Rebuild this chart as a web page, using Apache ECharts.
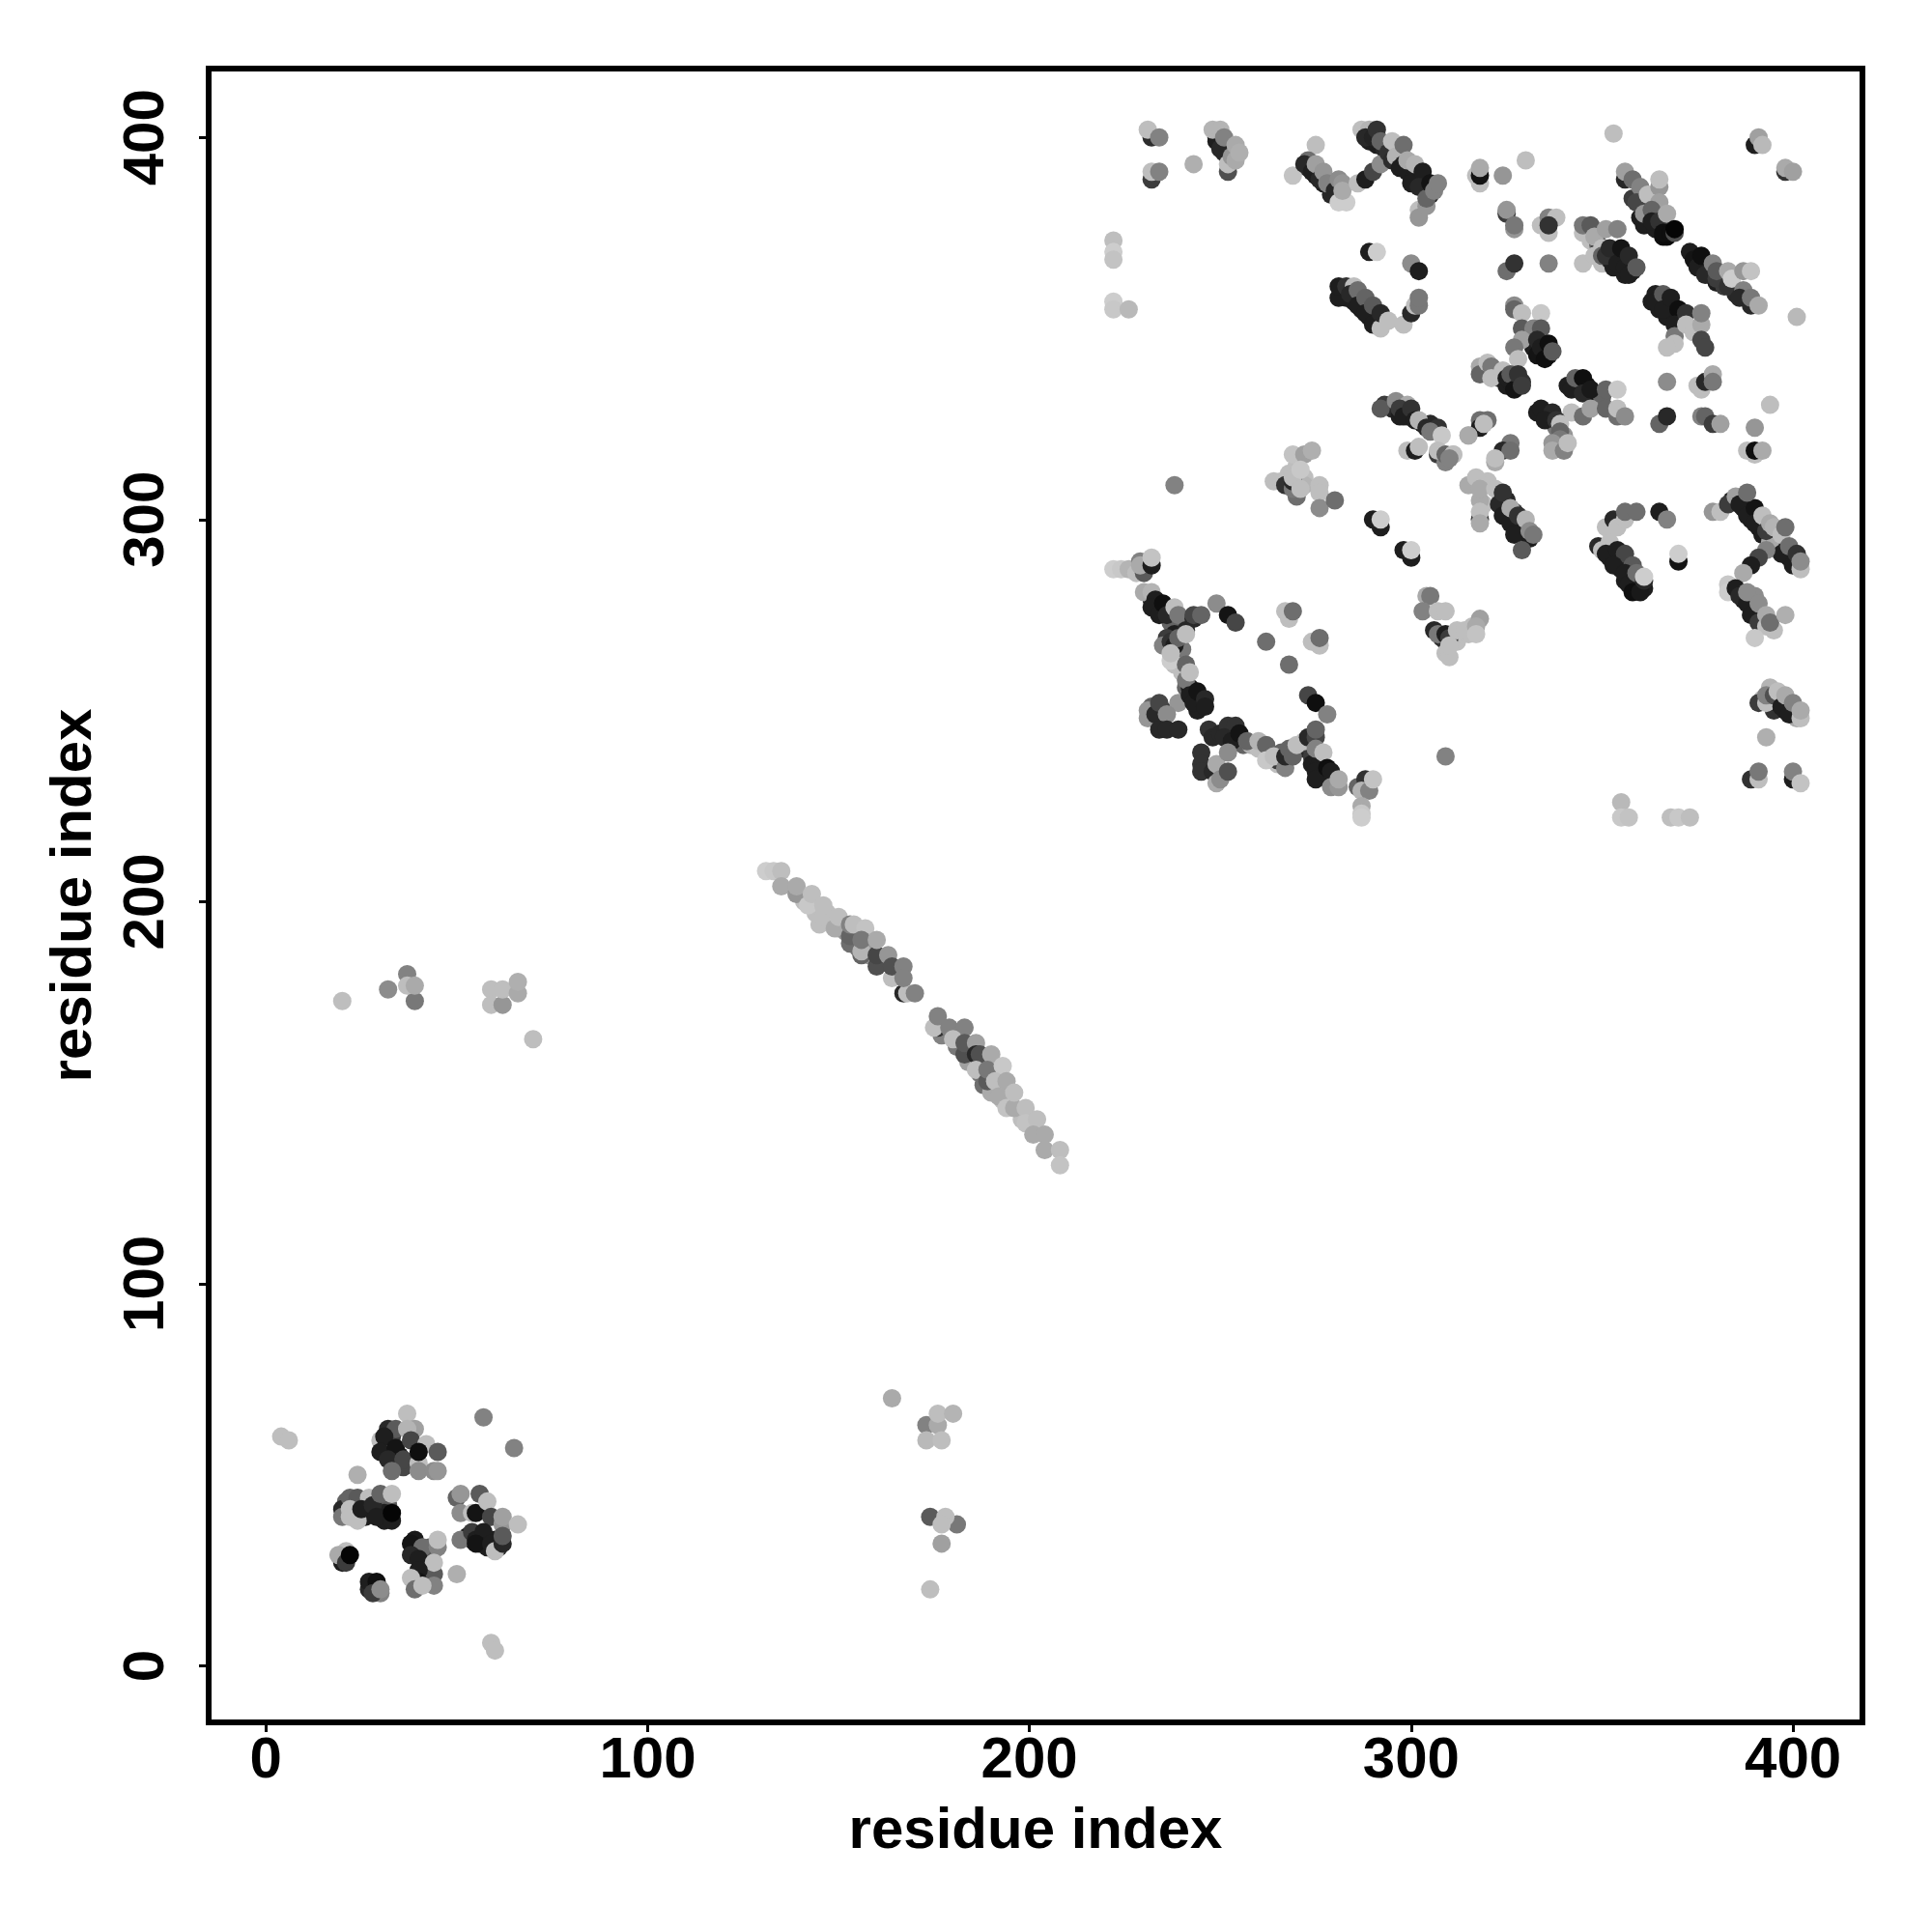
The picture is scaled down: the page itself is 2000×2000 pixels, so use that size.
<!DOCTYPE html>
<html><head><meta charset="utf-8">
<style>html,body{margin:0;padding:0;background:#fff}#c{width:2000px;height:2000px}</style>
<script src="https://cdn.jsdelivr.net/npm/echarts@6/dist/echarts.min.js"></script>
</head><body><div id="c"></div>
<script>
const tickLabels = [0,100,200,300,400];
const axisTitle = "residue index";
// each entry: [residue x, residue y, gray level]
const underLower = [[32,59,30],[33,57,30],[35,55,30],[36,52,70],[31,57,30],[32,60,30],[33,60,60],[21,43,100],[23,40,30],[26,39,30],[27,41,30],[30,41,30],[31,38,30],[32,42,90],[31,40,30],[53,34,30],[54,33,30],[56,32,30],[58,31,30],[57,33,30],[60,33,30],[61,31,40],[39,31,30],[40,30,30],[42,29,30],[43,26,100],[42,24,30],[41,23,30],[42,22,60],[39,22,90],[43,31,90],[20,28,60],[21,30,190],[20,27,30],[28,21,30],[29,20,60],[27,20,40],[30,19,130]];
const underArc = [[150,193,170],[152,192,150],[155,188,120],[158,186,150],[162,184,90],[165,182,100],[177,165,130],[181,162,120],[184,158,160],[187,155,120],[188,152,110],[190,150,170],[193,148,190],[198,143,190],[147,197,190],[141,200,190],[144,197,190],[158,188,150]];
const underTop = [[249,400,30],[251,396,40],[252,395,40],[273,392,40],[275,390,30],[277,388,30],[279,387,40],[279,385,40],[289,400,40],[291,398,30],[293,397,40],[296,394,40],[297,393,30],[299,391,30],[301,390,30],[303,388,30],[304,386,30],[305,385,40],[282,360,40],[283,358,30],[285,357,30],[287,355,30],[289,353,30],[291,351,30],[285,359,100],[287,357,90],[289,355,90]];
const underCenter = [[293,330,60],[295,329,40],[297,327,30],[299,327,30],[303,325,30],[305,325,40],[300,327,60],[268,309,40],[270,309,70],[270,306,110],[272,311,190],[272,309,180],[270,314,190],[268,312,190],[306,271,40],[308,269,40],[309,268,50],[311,268,190],[312,268,190],[313,270,190],[315,270,190],[316,272,190],[309,265,190]];
const underRing = [[232,279,30],[234,277,30],[236,277,15],[237,273,100],[239,272,100],[240,270,50],[238,270,30],[236,269,60],[240,266,120],[238,262,190],[240,260,190],[241,256,100],[242,256,30],[243,253,30],[245,251,30],[244,250,30],[232,251,100],[231,248,150],[235,250,60],[247,245,50],[248,243,40],[250,244,40],[252,243,30],[254,243,40],[256,241,100],[258,241,180],[260,240,190],[263,238,190],[265,236,190],[265,237,60],[266,239,100],[272,240,40],[274,238,60],[274,236,30],[276,236,30],[277,233,30],[273,241,60],[272,242,190]];
const underRight = [[319,304,190],[320,310,190],[318,305,170],[325,305,40],[327,302,60],[329,299,30],[331,295,30],[349,293,40],[352,290,30],[353,291,30],[355,289,30],[355,287,30],[357,285,30],[356,284,30],[359,283,20],[361,282,30],[384,305,30],[387,303,30],[389,300,30],[391,298,30],[392,296,30],[394,295,30],[396,293,30],[398,292,30],[399,290,30],[396,296,170],[394,294,170],[387,279,30],[389,277,30],[390,280,140],[392,275,190],[393,274,60],[395,271,190],[395,250,50],[396,252,30],[398,250,30],[392,253,190],[394,256,180],[401,248,170]];
const underUpper = [[360,379,30],[362,378,30],[361,377,30],[364,376,30],[366,374,15],[367,374,10],[364,380,60],[362,382,100],[358,384,60],[373,370,30],[375,368,30],[378,364,30],[380,362,30],[382,361,60],[385,359,40],[347,373,190],[349,372,100],[350,367,190],[352,368,30],[353,366,30],[356,364,30],[358,365,40],[349,370,50],[363,357,30],[365,355,30],[367,353,30],[369,354,30],[371,352,60],[331,347,30],[332,345,30],[333,343,20],[335,344,15],[336,343,30],[322,339,60],[323,337,50],[325,335,30],[326,336,30],[329,336,50],[341,335,30],[344,335,30],[346,335,20],[348,333,20],[333,328,30],[336,326,40],[338,324,120],[340,322,150],[338,319,120],[350,332,100]];
const lowerLeft = [[4,60,190],[6,59,190],[37,66,190],[57,65,130],[65,57,130],[32,62,40],[34,62,90],[30,59,190],[31,60,30],[39,62,160],[37,62,180],[30,56,30],[34,57,20],[32,54,40],[36,54,70],[38,59,70],[42,58,190],[40,53,190],[40,56,15],[45,56,90],[33,51,110],[40,51,140],[44,51,140],[45,51,150],[24,50,175],[20,41,40],[22,44,100],[24,44,90],[20,39,120],[22,41,190],[22,39,190],[24,38,190],[27,44,190],[25,41,30],[28,42,40],[30,45,100],[33,45,190],[29,39,30],[33,38,30],[33,40,5],[50,44,100],[51,45,150],[56,45,90],[51,40,140],[54,40,190],[55,40,20],[58,43,190],[59,39,70],[62,37,150],[62,39,160],[66,37,190],[51,33,120],[54,35,60],[55,33,30],[57,35,30],[55,32,20],[59,32,30],[60,30,190],[62,32,40],[62,34,90],[39,33,25],[38,32,20],[41,31,110],[45,31,130],[45,33,190],[38,29,40],[40,28,30],[44,24,90],[44,27,190],[44,21,130],[40,25,30],[40,22,20],[38,23,190],[39,20,110],[41,21,190],[50,24,175],[19,29,170],[21,27,60],[22,29,5],[27,22,30],[29,22,15],[28,19,60],[30,20,140],[59,6,190],[60,4,190]];
const midLower = [[164,70,170],[173,63,130],[173,59,185],[176,63,170],[176,66,190],[177,59,190],[180,66,180],[174,39,90],[181,37,120],[178,39,190],[177,37,190],[177,32,160],[174,20,190]];
const midUpper = [[20,174,190],[32,177,140],[37,181,130],[39,174,120],[37,178,190],[39,178,170],[59,177,190],[59,173,190],[62,173,150],[62,177,190],[66,176,170],[66,179,175],[70,164,190]];
const arcA = [[131,208,205],[133,208,200],[135,208,190],[135,204,170],[139,202,150],[139,204,170],[142,199,200],[143,202,190],[145,194,190],[146,196,190],[146,199,190],[149,193,170],[150,196,190],[153,189,110],[153,191,100],[153,194,130],[154,194,190],[157,193,195],[156,186,100],[156,187,180],[156,190,120],[160,183,80],[160,186,70],[160,190,170],[164,180,190],[163,186,150],[164,183,80],[167,176,40],[168,176,190],[167,183,130],[167,180,130],[170,176,130]];
const arcB = [[176,167,50],[175,167,190],[176,170,130],[179,167,130],[183,167,130],[180,164,190],[183,160,80],[183,163,90],[186,163,160],[186,160,40],[187,160,80],[190,160,170],[186,156,190],[189,153,90],[189,156,120],[193,157,200],[191,153,190],[194,153,170],[192,149,170],[194,146,195],[196,146,170],[196,150,190],[199,146,190],[199,142,195],[202,143,190],[201,139,170],[204,139,170],[204,135,170],[208,135,190],[208,131,195]];
const topBandA = [[232,400,45],[231,402,190],[234,400,130],[232,389,60],[232,391,190],[234,391,130],[243,393,175],[249,399,30],[250,397,40],[248,402,180],[250,402,180],[251,400,130],[252,391,80],[252,393,190],[253,395,150],[254,398,170],[254,394,170],[255,396,175],[275,398,190],[269,390,195],[273,394,110],[272,393,40],[274,391,30],[275,393,160],[276,389,40],[277,391,150],[278,388,130],[280,386,40],[281,389,140],[282,388,150],[281,383,205],[283,383,205],[282,386,170],[286,388,190],[288,389,30],[290,391,70],[292,393,140],[289,399,30],[287,402,190],[289,402,180],[288,400,40],[290,400,35],[291,402,50],[292,399,100],[294,396,50],[295,394,45],[295,399,190],[296,395,180],[298,393,40],[297,392,30],[298,398,110],[299,394,170],[300,388,30],[301,393,180],[303,391,30],[302,387,40],[302,381,190],[302,379,150],[304,382,150],[304,384,100],[305,388,20],[306,386,130],[307,388,130]];
const leftBand = [[222,373,190],[222,370,205],[222,368,195],[222,357,205],[222,355,200],[226,355,185],[289,370,30],[291,370,205],[300,367,140],[302,365,30],[281,358,30],[281,361,30],[283,361,50],[285,361,190],[284,359,40],[286,360,110],[286,356,30],[288,358,100],[288,354,30],[290,351,30],[290,356,90],[292,350,190],[292,354,40],[294,352,190],[298,351,190],[300,354,40],[301,356,190],[302,356,120],[302,358,120]];
const centerBand = [[292,329,90],[296,331,140],[299,330,170],[297,329,60],[298,327,30],[300,329,50],[301,326,30],[302,326,180],[304,324,40],[307,324,50],[305,323,120],[308,322,200],[299,318,190],[301,318,30],[302,319,190],[307,317,60],[309,315,130],[307,318,190],[309,317,100],[311,317,190],[315,322,190],[264,310,190],[266,310,190],[267,309,50],[269,308,120],[269,310,40],[269,311,190],[269,317,195],[272,317,160],[274,318,175],[271,313,200],[271,308,190],[276,309,190],[276,307,190],[276,303,140],[280,305,110],[238,309,130],[290,300,30],[292,298,30],[292,300,205],[298,292,30],[300,290,30],[300,292,205],[304,280,170],[305,280,120],[303,276,130],[307,276,190],[309,276,190],[307,270,120],[309,270,30],[310,269,60],[310,264,190],[310,267,190],[312,271,190],[314,271,190],[318,274,160],[317,272,170],[317,270,195]];
const ringTop = [[222,287,205],[224,287,200],[226,287,180],[229,289,130],[228,286,190],[230,286,90],[229,288,170],[232,288,30],[232,290,195],[230,281,170],[232,281,180],[233,279,30],[232,277,30],[234,275,30],[235,278,15],[236,275,40],[238,277,190],[239,275,120],[241,271,40],[243,274,40],[243,275,70],[245,275,100],[249,278,140],[252,275,20],[254,273,70],[235,267,130],[237,268,50],[238,267,30],[239,269,100],[241,270,190],[237,263,205],[237,265,190],[241,262,100],[241,258,120],[242,260,190],[239,252,150],[242,254,30],[243,252,30],[244,255,20],[246,253,40],[246,251,30],[231,250,150],[233,249,40],[234,252,70],[236,249,140],[234,245,40],[236,245,40],[239,245,40]];
const ringBottom = [[245,239,50],[245,236,50],[245,234,50],[248,234,40],[249,236,170],[249,231,170],[250,232,140],[252,234,80],[252,246,50],[254,246,50],[251,243,40],[253,242,30],[255,244,20],[252,239,140],[257,242,100],[260,242,180],[262,241,100],[262,237,200],[264,238,190],[267,235,130],[267,238,40],[268,240,100],[269,238,100],[270,241,190],[273,243,40],[275,243,70],[275,245,100],[275,240,130],[277,239,190],[275,234,30],[275,232,30],[278,235,15],[279,234,30],[279,230,140],[281,230,150],[281,232,170],[273,254,70],[275,252,15],[278,249,130],[262,268,110],[268,262,110],[267,276,190],[268,274,190],[269,276,110],[274,268,190],[276,267,190],[276,269,110],[286,230,100],[288,232,50],[287,229,180],[289,229,130],[290,232,195],[287,225,170],[287,223,200],[287,222,205],[309,238,130]];
const lowerRight = [[315,309,170],[317,311,190],[318,308,170],[318,300,60],[318,302,190],[318,299,170],[322,315,170],[322,308,190],[323,304,40],[324,301,30],[324,307,50],[326,299,30],[326,303,170],[327,296,30],[328,301,50],[330,300,180],[331,297,140],[332,296,120],[329,292,90],[350,292,190],[351,298,190],[352,294,190],[353,300,40],[354,298,190],[356,300,190],[356,302,110],[359,302,110],[351,291,30],[354,292,30],[356,291,70],[353,288,30],[358,288,90],[356,286,30],[357,283,30],[358,281,15],[360,281,25],[359,286,110],[361,284,40],[361,285,205],[365,302,30],[367,300,130],[370,289,20],[370,291,205],[379,302,150],[381,302,190],[383,304,60],[385,306,160],[386,304,30],[388,301,30],[390,303,20],[388,307,110],[390,299,30],[392,301,190],[393,297,60],[394,299,170],[395,298,180],[397,296,190],[398,298,110],[397,291,30],[399,293,110],[400,288,30],[401,291,50],[402,287,190],[402,289,140],[393,292,130],[391,290,70],[389,288,30],[387,286,170],[383,283,200],[383,281,205],[385,282,30],[386,280,40],[388,278,30],[388,281,140],[389,275,30],[391,273,60],[391,278,140],[393,272,190],[393,275,170],[394,273,110],[398,275,175],[390,269,200],[391,252,60],[393,252,190],[393,254,130],[395,254,80],[396,255,190],[397,251,30],[398,254,170],[399,249,30],[400,252,130],[402,248,190],[402,250,170],[393,243,175],[389,232,50],[391,232,190],[391,234,120],[400,232,30],[400,234,130],[402,231,195],[355,226,185],[355,222,200],[357,222,195],[368,222,190],[370,222,200],[373,222,190]];
const upperRightA = [[353,401,190],[390,398,30],[391,400,160],[392,398,185],[398,391,50],[398,392,170],[400,391,160],[330,394,190],[317,390,190],[318,388,190],[318,390,20],[318,392,170],[324,390,150],[325,380,60],[325,381,150],[327,376,150],[327,377,120],[334,377,190],[336,375,190],[336,379,130],[338,379,190],[336,377,50],[325,365,110],[327,367,50],[336,367,130],[345,367,190],[345,375,190],[345,377,120],[347,377,90],[348,374,170],[351,376,160],[354,376,130],[348,369,190],[350,371,190],[350,369,100],[351,369,50],[352,371,40],[354,367,30],[355,371,20],[356,366,30],[357,369,40],[357,364,30],[359,366,90],[356,389,40],[356,391,160],[358,389,110],[360,387,130],[359,383,70],[362,385,190],[365,387,150],[365,389,190],[365,383,160],[361,380,150],[363,381,100],[363,378,30],[365,378,50],[367,380,170],[366,375,15],[368,375,15],[369,375,80],[369,376,5],[374,368,20],[375,366,30],[376,369,15],[377,364,40],[379,367,130],[380,363,60],[380,365,90],[383,361,50],[383,365,170],[384,363,205],[387,360,130],[387,365,150],[389,365,195],[386,358,40],[389,356,40],[389,358,120],[391,356,170],[401,353,185]];
const upperRightB = [[364,359,30],[364,357,30],[366,359,90],[366,355,30],[368,358,30],[370,355,15],[369,351,30],[369,348,120],[369,346,190],[367,345,190],[372,354,50],[372,351,190],[374,349,190],[376,351,170],[376,354,130],[376,347,70],[377,345,70],[367,336,140],[375,335,190],[376,334,190],[377,336,40],[379,338,170],[379,336,120],[365,325,100],[367,327,40],[376,327,130],[377,327,100],[379,325,60],[381,325,160],[394,330,190],[390,324,150],[388,318,190],[390,317,190],[390,318,15],[392,318,170],[327,356,140],[327,355,100],[329,354,190],[334,354,200],[329,350,90],[332,350,130],[334,350,90],[329,347,160],[327,345,120],[328,342,190],[333,347,40],[334,345,30],[335,342,15],[336,346,15],[337,344,90],[318,340,170],[318,338,100],[320,341,190],[321,340,120],[321,337,190],[324,339,190],[325,337,30],[326,338,90],[327,334,20],[328,338,50],[329,335,60],[342,334,30],[343,337,100],[345,337,15],[345,333,40],[347,334,25],[351,334,100],[354,334,200],[342,328,190],[345,327,110],[347,329,160],[351,329,100],[354,327,110],[354,329,190],[356,327,140],[334,329,30],[337,328,40],[335,326,30],[338,326,50],[339,325,190],[339,323,100],[339,321,120],[337,320,150],[337,318,170],[340,318,130],[341,320,190],[318,326,110],[318,324,30],[320,326,110],[319,325,190],[315,322,170],[326,320,120],[324,318,40],[326,318,110],[322,316,190],[311,317,190],[310,316,130]];

const points = [].concat(underLower, underArc, underTop, underCenter, underRing, underRight, underUpper, lowerLeft, midLower, midUpper, arcA, arcB, topBandA, leftBand, centerBand, ringTop, ringBottom, lowerRight, upperRightA, upperRightB);
const font = 'Liberation Sans';
const grayColor = g => `rgb(${g},${g},${g})`;
const chart = echarts.init(document.getElementById('c'), null, {renderer:'canvas'});
const axisCommon = {
  type:'value', splitLine:{show:false},
  name:axisTitle, nameLocation:'middle',
  nameTextStyle:{fontFamily:font,fontWeight:'bold',fontSize:60,color:'#000'},
  axisLine:{show:true,onZero:false,lineStyle:{color:'#000',width:6}},
  axisTick:{show:true,length:10,inside:false,customValues:tickLabels,lineStyle:{color:'#000',width:3}},
  axisLabel:{show:true,customValues:tickLabels,fontFamily:font,fontWeight:'bold',fontSize:60,color:'#000'}
};
chart.setOption({
  animation:false, backgroundColor:'#fff',
  grid:{left:216,right:72,top:71,bottom:217,show:true,borderColor:'#000',borderWidth:6,backgroundColor:'#fff'},
  xAxis:Object.assign({},axisCommon,{min:-15,max:418.2,nameGap:83,axisLabel:Object.assign({},axisCommon.axisLabel,{margin:10})}),
  yAxis:Object.assign({},axisCommon,{min:-14.8,max:418,nameGap:109,axisLabel:Object.assign({},axisCommon.axisLabel,{rotate:90,margin:34})}),
  series:[{type:'scatter',symbol:'circle',symbolSize:19,silent:true,large:false,
    data:points.map(p=>({value:[p[0],p[1]],itemStyle:{color:grayColor(p[2]),opacity:1}}))}]
});
</script></body></html>
